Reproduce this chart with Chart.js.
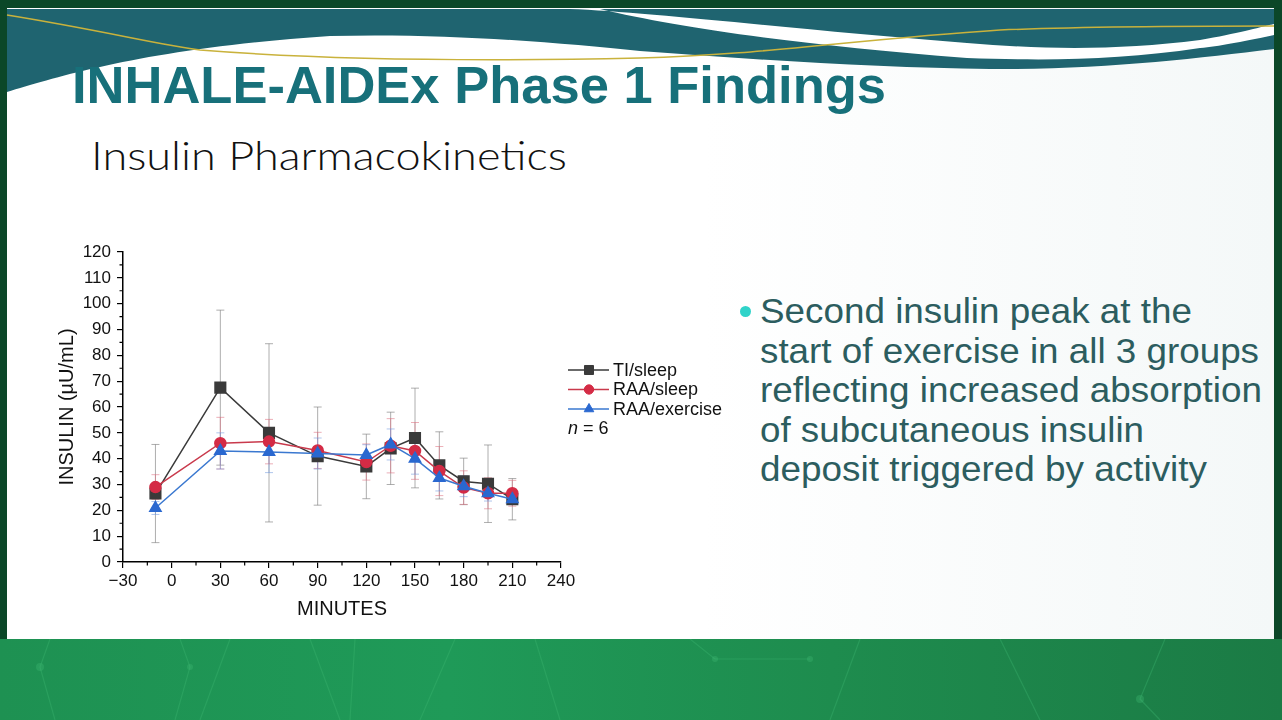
<!DOCTYPE html>
<html><head><meta charset="utf-8">
<script src="https://cdn.jsdelivr.net/npm/chart.js@4.4.1/dist/chart.umd.min.js"></script>
<style>
html,body{margin:0;padding:0;width:1282px;height:720px;overflow:hidden;background:#0b4728;}
#content{position:absolute;left:7px;top:8px;width:1267px;height:631px;background:linear-gradient(90deg,#ffffff 0%,#ffffff 55%,#f4f8f8 100%);}
#bottom{position:absolute;left:0;top:639px;width:1282px;height:81px;background:linear-gradient(90deg,#1e9152 0%,#1f9a58 35%,#1e8c4e 65%,#1b7b45 100%);}
#deco,#bdeco{position:absolute;left:0;top:0;}
#bdeco{top:639px;}
.t{position:absolute;white-space:nowrap;transform-origin:0 0;line-height:1;}
#title{left:72px;top:55px;font:bold 52px "Liberation Sans",Arial,sans-serif;color:#17707a;}
#sub{left:91px;top:131px;font:300 40px Lato,"Open Sans",sans-serif;color:#111;}
.b{left:760px;font:35px "Liberation Sans",Arial,sans-serif;color:#2c5d5f;}
#dot{position:absolute;left:740px;top:306px;width:11px;height:11px;border-radius:50%;background:#2fd3c9;}
#chart{position:absolute;left:0;top:0;}
</style></head>
<body>
<div id="content"></div>
<svg id="deco" width="1282" height="120">
  <path d="M7,9 L1274,9 L1274,49 C1200,58 1100,70 990,69 C880,68 760,60 640,51 C560,43 450,33 330,36 C150,48 60,76 7,92 Z" fill="#1f6470"/>
  <path d="M570,9 C650,12 800,30 967,43 C1050,50 1120,50 1200,40 C1240,33 1260,27 1274,24 L1274,35 C1240,42 1220,46 1200,48 C1120,60 1050,61 967,58 C800,45 680,28 600,9 Z" fill="#ffffff"/>
  <path d="M7,15 C100,30 160,45 200,50 C300,58 450,62 640,58 C760,55 850,40 1000,30 C1100,26 1200,26 1274,26" fill="none" stroke="#c9b23c" stroke-width="1.5"/>
</svg>
<div id="bottom"></div>
<svg id="bdeco" width="1282" height="81">
  <g stroke="#3fb872" stroke-opacity="0.35" stroke-width="1.2" fill="none">
    <path d="M50,0 L40,28 L55,81"/><path d="M180,0 L190,28 L175,81"/><path d="M230,0 L200,81"/>
    <path d="M310,0 L340,81"/><path d="M355,0 L350,81"/><path d="M455,0 L420,81"/><path d="M535,0 L560,81"/>
    <path d="M715,20 L810,20"/><path d="M690,0 L715,20"/><path d="M860,0 L830,81"/><path d="M1000,0 L1040,81"/>
    <path d="M1165,0 L1140,60 L1160,81"/>
  </g>
  <g fill="#3fb872" fill-opacity="0.35">
    <circle cx="40" cy="28" r="4"/><circle cx="190" cy="28" r="3"/><circle cx="1140" cy="60" r="4"/><circle cx="715" cy="20" r="3"/><circle cx="810" cy="20" r="3"/>
  </g>
</svg>
<div class="t" id="title" data-w="814">INHALE-AIDEx Phase 1 Findings</div>
<div class="t" id="sub" data-w="476">Insulin Pharmacokinetics</div>
<div id="dot"></div>
<div class="t b" style="top:291px" data-w="432">Second insulin peak at the</div>
<div class="t b" style="top:331px" data-w="499">start of exercise in all 3 groups</div>
<div class="t b" style="top:370px" data-w="502">reflecting increased absorption</div>
<div class="t b" style="top:410px" data-w="384">of subcutaneous insulin</div>
<div class="t b" style="top:449px" data-w="447">deposit triggered by activity</div>
<canvas id="chart" width="1282" height="720"></canvas>
<script>
// ---- data ----
const minutes = [-10, 30, 60, 90, 120, 135, 150, 165, 180, 195, 210];
const tiSleep = [26.5, 67.5, 50, 41, 37, 44, 48, 37.4, 31.2, 30.3, 24.3];
const tiSleepErr = [19, 30, 34.5, 19, 12.5, 14, 19.3, 13, 9, 15, 8];
const raaSleep = [29, 46, 46.6, 43.2, 38.7, 45, 43, 35.2, 28.8, 26.6, 26.6];
const raaSleepErr = [4.8, 10, 8.6, 7, 7, 10.5, 11, 9.5, 6.5, 6, 5];
const raaExercise = [20.9, 43, 42.6, 42, 41.4, 45.5, 40, 32.5, 29.3, 26.6, 24.3];
const raaExerciseErr = [2.5, 7, 8, 6, 4, 6, 6, 5, 4, 3, 2];
const seriesNames = ['TI/sleep', 'RAA/sleep', 'RAA/exercise'];
const nLabel = '= 6';
const xTitle = 'MINUTES';
const yTitle = 'INSULIN (\u00b5U/mL)';

// fit text widths
function fitText(){
  document.querySelectorAll('[data-w]').forEach(el=>{
    el.style.transform='none';
    const w=el.getBoundingClientRect().width;
    if(w>0) el.style.transform='scaleX('+(+el.dataset.w/w)+')';
  });
}
fitText();
if(document.fonts&&document.fonts.ready) document.fonts.ready.then(fitText);

const FONT = '"Liberation Sans", Arial, sans-serif';
const pts = arr => minutes.map((m,i)=>({x:m,y:arr[i]}));

const errorBars = {
  id:'errorBars',
  beforeDatasetsDraw(chart){
    const ctx=chart.ctx, xs=chart.scales.x, ys=chart.scales.y;
    chart.data.datasets.forEach(ds=>{
      ctx.save(); ctx.strokeStyle=ds.errColor; ctx.lineWidth=1;
      ds.data.forEach((p,i)=>{
        const e=ds.err[i];
        const x=xs.getPixelForValue(p.x);
        const y1=ys.getPixelForValue(p.y+e), y2=ys.getPixelForValue(p.y-e);
        ctx.beginPath();
        ctx.moveTo(x,y1);ctx.lineTo(x,y2);
        ctx.moveTo(x-4,y1);ctx.lineTo(x+4,y1);
        ctx.moveTo(x-4,y2);ctx.lineTo(x+4,y2);
        ctx.stroke();
      });
      ctx.restore();
    });
  }
};

const minorTicks = {
  id:'minorTicks',
  afterDraw(chart){
    const ctx=chart.ctx, xs=chart.scales.x, ys=chart.scales.y;
    ctx.save(); ctx.strokeStyle='#000'; ctx.lineWidth=1.2;
    ctx.beginPath();
    for(let v=-15; v<240; v+=30){ const x=xs.getPixelForValue(v); ctx.moveTo(x,ys.bottom); ctx.lineTo(x,ys.bottom+3.5); }
    for(let v=5; v<120; v+=10){ const y=ys.getPixelForValue(v); ctx.moveTo(xs.left,y); ctx.lineTo(xs.left-3.5,y); }
    ctx.stroke(); ctx.restore();
  }
};

const legendPlugin = {
  id:'customLegend',
  afterDraw(chart){
    const ctx=chart.ctx;
    const x0=568, x1=609, xm=589, xt=613;
    const rows=[370, 389.5, 409];
    chart.data.datasets.forEach((ds,i)=>{
      const y=rows[i];
      ctx.save();
      ctx.strokeStyle=ds.borderColor; ctx.lineWidth=1.5;
      ctx.beginPath(); ctx.moveTo(x0,y); ctx.lineTo(x1,y); ctx.stroke();
      ctx.fillStyle=ds.pointBackgroundColor; ctx.strokeStyle=ds.pointBackgroundColor; ctx.lineWidth=1;
      Chart.helpers.drawPoint(ctx,{pointStyle:ds.pointStyle,radius:ds.pointRadius*0.85,borderWidth:1},xm,y);
      ctx.fillStyle='#111'; ctx.font='18px '+FONT; ctx.textBaseline='middle'; ctx.textAlign='left';
      ctx.fillText(ds.label, xt, y+1);
      ctx.restore();
    });
    ctx.save();
    ctx.fillStyle='#111'; ctx.textBaseline='middle'; ctx.textAlign='left';
    ctx.font='italic 18px '+FONT; ctx.fillText('n', 568, 429);
    const w=ctx.measureText('n ').width;
    ctx.font='18px '+FONT; ctx.fillText(nLabel, 568+w, 429);
    ctx.restore();
  }
};

new Chart(document.getElementById('chart'),{
  type:'line',
  data:{datasets:[
    {label:seriesNames[0], data:pts(tiSleep), err:tiSleepErr, errColor:'rgba(120,120,120,0.6)',
     borderColor:'#3a3a3a', backgroundColor:'#3a3a3a', pointBackgroundColor:'#3a3a3a', pointBorderColor:'#3a3a3a',
     pointStyle:'rect', pointRadius:7.5, borderWidth:1.5, order:3},
    {label:seriesNames[1], data:pts(raaSleep), err:raaSleepErr, errColor:'rgba(220,110,125,0.55)',
     borderColor:'#c93a4c', backgroundColor:'#d42b45', pointBackgroundColor:'#d42b45', pointBorderColor:'#d42b45',
     pointStyle:'circle', pointRadius:5.5, borderWidth:1.5, order:2},
    {label:seriesNames[2], data:pts(raaExercise), err:raaExerciseErr, errColor:'rgba(110,150,220,0.55)',
     borderColor:'#3a78d0', backgroundColor:'#2a68d0', pointBackgroundColor:'#2a68d0', pointBorderColor:'#2a68d0',
     pointStyle:'triangle', pointRadius:6.5, borderWidth:1.5, order:1}
  ]},
  options:{
    responsive:false, animation:false, devicePixelRatio:1,
    layout:{padding:{left:51, right:721, top:252, bottom:95}},
    plugins:{legend:{display:false}, tooltip:{enabled:false}},
    elements:{line:{tension:0}},
    scales:{
      x:{type:'linear', min:-30, max:240,
        ticks:{stepSize:30, autoSkip:false, maxRotation:0, color:'#111', padding:3,
          font:{family:FONT, size:17},
          callback:v=> v<0 ? '\u2212'+Math.abs(v) : String(v)},
        grid:{display:true, drawOnChartArea:false, drawTicks:true, tickLength:6, color:'#000', lineWidth:1.2},
        border:{display:true, color:'#000', width:1.5},
        title:{display:true, text:xTitle, color:'#111', font:{family:FONT, size:20}, padding:{top:4,bottom:4}},
        afterFit(s){ s.height=63; s.paddingLeft=0; s.paddingRight=0; }
      },
      y:{type:'linear', min:0, max:120,
        ticks:{stepSize:10, autoSkip:false, color:'#111', padding:6, font:{family:FONT, size:17}},
        grid:{display:true, drawOnChartArea:false, drawTicks:true, tickLength:6, color:'#000', lineWidth:1.2},
        border:{display:true, color:'#000', width:1.5},
        title:{display:true, text:yTitle, color:'#111', font:{family:FONT, size:20}, padding:{top:4,bottom:4}},
        afterFit(s){ s.width=72; s.paddingTop=0; s.paddingBottom=0; }
      }
    }
  },
  plugins:[errorBars, minorTicks, legendPlugin]
});
</script>
</body></html>
